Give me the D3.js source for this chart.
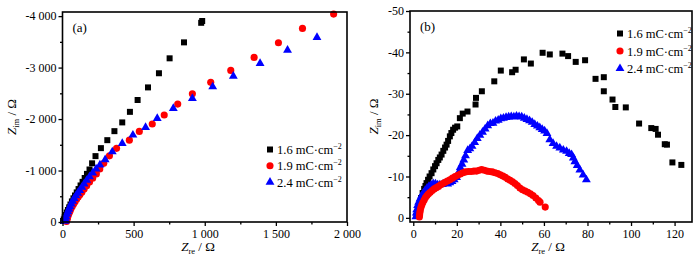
<!DOCTYPE html>
<html><head><meta charset="utf-8">
<script src="https://cdn.jsdelivr.net/npm/d3@7"></script>
<style>
body{margin:0;background:#fff}
svg{display:block}
text{font-family:"Liberation Serif","Times New Roman",serif;fill:#000}
</style>
</head><body>
<svg id="chart" width="700" height="261"></svg>
<script>
// ---------- data ----------
const seriesLabels = ["1.6", "1.9", "2.4"];
const seriesColors = ["#000000", "#ff0000", "#0000ff"];

// Panel (a): [Zre, Zim] in Ω
const a16 = [[4,-20],[9,-50],[15,-90],[22,-135],[30,-185],[38,-233],[47,-285],[56,-340],[66,-400],[77,-460],[88,-515],[100,-575],[113,-640],[127,-710],[141,-780],[156,-855],[172,-935],[190,-1020],[208,-1140],[232,-1280],[270,-1435],[315,-1590],[365,-1765],[420,-1935],[474,-2140],[528,-2370],[601,-2615],[678,-2890],[753,-3180],[854,-3490],[975,-3870],[982,-3905]];
const a19 = [[28,-10],[31,-40],[35,-80],[40,-125],[46,-170],[53,-215],[60,-260],[69,-305],[78,-350],[88,-395],[99,-440],[110,-485],[122,-530],[136,-580],[152,-640],[170,-705],[190,-775],[212,-850],[238,-935],[262,-1030],[290,-1140],[330,-1285],[380,-1431],[470,-1590],[540,-1760],[631,-1905],[715,-2078],[810,-2291],[913,-2491],[1042,-2713],[1183,-2945],[1347,-3198],[1518,-3482],[1687,-3761],[1906,-4039]];
const a24 = [[18,-15],[21,-55],[25,-100],[31,-150],[38,-200],[45,-250],[52,-297],[61,-350],[71,-405],[82,-460],[94,-510],[107,-560],[121,-615],[136,-675],[152,-740],[170,-810],[190,-880],[212,-955],[236,-1030],[263,-1110],[300,-1210],[350,-1365],[420,-1528],[495,-1689],[584,-1839],[666,-2014],[779,-2208],[913,-2402],[1056,-2627],[1201,-2835],[1389,-3082],[1582,-3340],[1789,-3586]];

// Panel (b)
const b16 = [[1.5,-0.5],[2,-1.5],[2.5,-2.5],[3.1,-3.6],[3.6,-4.8],[4.3,-6.0],[5.0,-7.0],[5.6,-7.7],[6.1,-8.4],[6.8,-9.2],[7.5,-10.0],[8.4,-10.8],[9.2,-11.7],[10,-12.5],[10.7,-13.2],[11.5,-14],[12.2,-14.6],[13,-15.3],[13.8,-16.2],[14.6,-17],[15.3,-17.7],[16,-18.6],[16.8,-19.7],[17.5,-20.5],[18.3,-21.3],[19.2,-21.8],[20.2,-22.1],[21.4,-24.1],[22.7,-25.2],[24.9,-25.7],[28.6,-27.4],[28.8,-29.0],[31.5,-30.6],[37.2,-33.0],[40.2,-35.6],[45.4,-35.2],[47.0,-35.8],[50.8,-38.3],[54.0,-37.3],[59.4,-39.9],[62.7,-39.5],[68.5,-39.7],[71.1,-39.1],[74.6,-37.7],[78.9,-38.1],[83.7,-33.6],[87.5,-34.0],[87.5,-30.6],[91.5,-28.6],[92.8,-26.8],[97.6,-26.7],[103.7,-22.8],[109.3,-21.7],[111.3,-21.5],[112.4,-20.1],[115.5,-17.8],[116.5,-17.7],[119,-13.4],[123.1,-12.8]];
const b19 = [[2.8,-0.2],[2.9,-0.7],[3.0,-1.2],[3.2,-1.8],[3.5,-2.5],[3.9,-3.1],[4.4,-3.7],[5.0,-4.3],[5.6,-4.9],[6.3,-5.4],[7.0,-5.8],[7.8,-6.2],[8.7,-6.6],[9.6,-7.0],[10.6,-7.3],[11.6,-7.6],[12.6,-8.0],[13.6,-8.3],[14.6,-8.6],[15.7,-8.9],[16.8,-9.2],[18.0,-9.6],[19.2,-10.0],[20.4,-10.3],[21.6,-10.6],[22.8,-10.9],[24.0,-11.1],[25.3,-11.2],[26.6,-11.2],[27.9,-11.3],[29.1,-11.3],[30.3,-11.5],[31.4,-11.7],[32.6,-11.5],[33.8,-11.3],[35.0,-11.2],[36.3,-11.1],[37.6,-10.9],[38.8,-10.7],[40.0,-10.4],[41.2,-10.1],[42.3,-9.8],[43.4,-9.4],[44.5,-9.1],[45.6,-8.7],[46.7,-8.3],[47.8,-7.8],[49.0,-7.2],[50.2,-6.8],[51.4,-6.5],[52.6,-6.2],[53.8,-5.8],[55.0,-5.4],[56.3,-4.8],[57.5,-4.2],[58.2,-3.8],[60.6,-2.6]];
const b24 = [[1.2,-0.3],[1.4,-1.2],[1.6,-2.0],[2.0,-3.0],[2.5,-3.8],[3.1,-4.6],[3.8,-5.3],[4.6,-6.0],[5.4,-6.6],[6.3,-7.2],[7.2,-7.6],[8.2,-8.0],[9.2,-8.3],[10.2,-8.2],[11.2,-8.0],[12.2,-8.0],[13.4,-8.1],[14.6,-8.3],[15.8,-8.2],[16.8,-8.5],[17.8,-8.8],[18.8,-9.2],[19.9,-9.8],[20.8,-11.0],[21.6,-12.2],[22.4,-13.0],[23.2,-14.0],[24.0,-15.0],[25.0,-16.3],[26.0,-16.7],[27.0,-17.3],[28.2,-18.2],[29.4,-19.2],[30.6,-20.0],[31.8,-20.7],[33.0,-21.5],[34.2,-22.3],[35.4,-22.8],[36.6,-22.9],[37.8,-23.4],[39.0,-23.6],[40.2,-24.0],[41.4,-24.1],[42.6,-24.3],[43.8,-24.4],[45.0,-24.5],[46.2,-24.4],[47.4,-24.6],[48.6,-24.5],[49.8,-24.4],[51.0,-24.1],[52.2,-23.8],[53.4,-23.5],[54.6,-23.1],[55.8,-22.6],[57.0,-22.2],[58.1,-21.8],[59.2,-21.4],[60.3,-21.0],[61.4,-20.4],[62.7,-18.9],[64.2,-18.0],[65.8,-17.3],[67.3,-16.9],[68.9,-16.4],[70.4,-16.1],[71.6,-15.6],[72.7,-15.3],[73.5,-14.5],[74.2,-13.6],[75.3,-12.7],[76.5,-11.6],[78.0,-10.4],[79.5,-9.2]];

// Tick values
const aXTicks = [0, 500, 1000, 1500, 2000];
const aXMinor = [250, 750, 1250, 1750];
const aYTicks = [0, -1000, -2000, -3000, -4000];
const aYMinor = [-500, -1500, -2500, -3500];
const bXTicks = [0, 20, 40, 60, 80, 100, 120];
const bXMinor = [10, 30, 50, 70, 90, 110];
const bYTicks = [0, -10, -20, -30, -40, -50];
const bYMinor = [-5, -15, -25, -35, -45];

// ---------- drawing ----------
const svg = d3.select("#chart");
const fmtSpace = d => d === 0 ? "0" : (d < 0 ? "-" : "") + d3.format(",")(Math.abs(d)).replace(/,/g, " ");
const fmtPlain = d => d === 0 ? "0" : (d < 0 ? "-" : "") + Math.abs(d);
const symbols = [d3.symbolSquare, d3.symbolCircle, d3.symbolTriangle];
const symSizes = [36, 40, 34];

function drawPanel(cfg) {
  const g = svg.append("g");
  const x = d3.scaleLinear().domain(cfg.xDomain).range([cfg.left, cfg.right]);
  const y = d3.scaleLinear().domain(cfg.yDomain).range([cfg.bottom, cfg.top]);

  // series
  cfg.order.forEach(i => {
    g.append("g").selectAll("path").data(cfg.series[i]).join("path")
      .attr("d", d3.symbol().type(symbols[i]).size(symSizes[i]))
      .attr("transform", d => `translate(${x(d[0])},${y(d[1])})`)
      .attr("fill", seriesColors[i]);
  });

  // frame
  g.append("rect").attr("x", cfg.left).attr("y", cfg.top)
    .attr("width", cfg.right - cfg.left).attr("height", cfg.bottom - cfg.top)
    .attr("fill", "none").attr("stroke", "#000").attr("stroke-width", 1.6);

  const styleAxis = (sel) => {
    sel.select(".domain").remove();
    sel.selectAll("line").attr("stroke", "#000").attr("stroke-width", 1.3);
    sel.selectAll("text").attr("font-size", 12).attr("font-family", "Liberation Serif, serif").attr("fill", "#000");
  };
  // x axis
  g.append("g").attr("transform", `translate(0,${cfg.bottom})`)
    .call(d3.axisBottom(x).tickValues(cfg.xMinor).tickSize(2.5).tickFormat(""))
    .call(styleAxis);
  g.append("g").attr("transform", `translate(0,${cfg.bottom})`)
    .call(d3.axisBottom(x).tickValues(cfg.xTicks).tickSize(4).tickPadding(3).tickFormat(cfg.fmt))
    .call(styleAxis);
  // y axis
  g.append("g").attr("transform", `translate(${cfg.left},0)`)
    .call(d3.axisLeft(y).tickValues(cfg.yMinor).tickSize(2.5).tickFormat(""))
    .call(styleAxis);
  g.append("g").attr("transform", `translate(${cfg.left},0)`)
    .call(d3.axisLeft(y).tickValues(cfg.yTicks).tickSize(4).tickPadding(2).tickFormat(cfg.fmt))
    .call(styleAxis);

  // panel tag
  g.append("text").attr("x", cfg.left + 10).attr("y", cfg.top + 20)
    .attr("font-size", 13).text(cfg.tag);

  // x label
  const xl = g.append("text").attr("x", cfg.xLabelX).attr("y", 251)
    .attr("text-anchor", "middle").attr("font-size", 13);
  xl.append("tspan").attr("font-style", "italic").text("Z");
  xl.append("tspan").attr("font-size", 8.5).attr("dy", 3).text("re");
  xl.append("tspan").attr("dy", -3).text(" / Ω");

  // y label
  const yl = g.append("text")
    .attr("transform", `translate(${cfg.yLabelX},${(cfg.top + cfg.bottom) / 2}) rotate(-90)`)
    .attr("text-anchor", "middle").attr("font-size", 13);
  yl.append("tspan").attr("font-style", "italic").text("Z");
  yl.append("tspan").attr("font-size", 8.5).attr("dy", 3).text("im");
  yl.append("tspan").attr("dy", -3).text(" / Ω");

  // legend
  seriesLabels.forEach((lab, i) => {
    const ly = cfg.legY + i * cfg.legStep;
    g.append("path").attr("d", d3.symbol().type(symbols[i]).size(symSizes[i])())
      .attr("transform", `translate(${cfg.legX},${ly})`).attr("fill", seriesColors[i]);
    const t = g.append("text").attr("x", cfg.legX + 7).attr("y", ly + 4.5).attr("font-size", 12.5);
    t.append("tspan").text(lab + " mC·cm");
    t.append("tspan").attr("font-size", 8).attr("dy", -5).text("−2");
  });
}

drawPanel({
  series: [a16, a19, a24], order: [0, 1, 2],
  xDomain: [0, 2000], yDomain: [0, -4080],
  left: 62.5, right: 347, top: 12, bottom: 222,
  xTicks: aXTicks, xMinor: aXMinor, yTicks: aYTicks, yMinor: aYMinor,
  fmt: fmtSpace, tag: "(a)", xLabelX: 198, yLabelX: 16,
  legX: 270, legY: 149.5, legStep: 16.3
});
drawPanel({
  series: [b16, b19, b24], order: [0, 2, 1],
  xDomain: [-1.5, 128], yDomain: [1, -50],
  left: 410, right: 692, top: 11, bottom: 222,
  xTicks: bXTicks, xMinor: bXMinor, yTicks: bYTicks, yMinor: bYMinor,
  fmt: fmtPlain, tag: "(b)", xLabelX: 548, yLabelX: 378,
  legX: 620, legY: 33.5, legStep: 17.5
});
</script>
</body></html>
